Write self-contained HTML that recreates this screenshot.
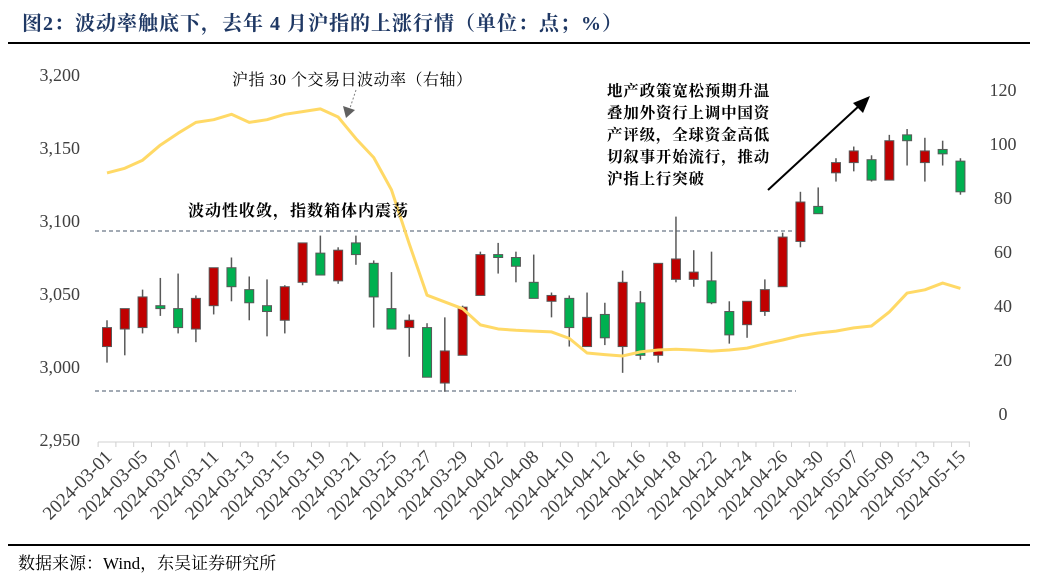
<!DOCTYPE html>
<html><head><meta charset="utf-8">
<style>
body{margin:0;background:#fff;}
svg{display:block;}
.t{font-family:"Liberation Serif","Noto Serif CJK SC",serif;}
</style></head>
<body>
<svg id="c" width="1047" height="583" viewBox="0 0 1047 583" xmlns="http://www.w3.org/2000/svg">
<text class="t" x="22" y="30" font-size="20" font-weight="bold" fill="#1f3864" letter-spacing="1">图2：波动率触底下，去年 4 月沪指的上涨行情（单位：点；%）</text>
<line x1="8" y1="43" x2="1030" y2="43" stroke="#000" stroke-width="2"/>
<line x1="8" y1="545" x2="1030" y2="545" stroke="#000" stroke-width="2"/>
<text class="t" x="18" y="569" font-size="17" fill="#000">数据来源：Wind，东吴证券研究所</text>
<g id="plot"></g>
</svg>
<script>
const dates=["2024-03-01","2024-03-04","2024-03-05","2024-03-06","2024-03-07","2024-03-08","2024-03-11","2024-03-12","2024-03-13","2024-03-14","2024-03-15","2024-03-18","2024-03-19","2024-03-20","2024-03-21","2024-03-22","2024-03-25","2024-03-26","2024-03-27","2024-03-28","2024-03-29","2024-04-01","2024-04-02","2024-04-03","2024-04-08","2024-04-09","2024-04-10","2024-04-11","2024-04-12","2024-04-15","2024-04-16","2024-04-17","2024-04-18","2024-04-19","2024-04-22","2024-04-23","2024-04-24","2024-04-25","2024-04-26","2024-04-29","2024-04-30","2024-05-06","2024-05-07","2024-05-08","2024-05-09","2024-05-10","2024-05-13","2024-05-14","2024-05-15"];
const openV=[3014,3026,3027,3042,3040,3026,3042,3068,3053,3042,3032,3058,3078,3059,3085,3071,3040,3027,3027,2989,3008,3049,3077,3075,3058,3045,3047,3014,3036,3014,3044,3008,3060,3060,3059,3038,3029,3038,3055,3086,3110,3133,3140,3142,3128,3159,3140,3149,3141];
const closeV=[3027,3040,3048,3040,3027,3047,3068,3055,3044,3038,3055,3085,3063,3080,3077,3048,3026,3032,2993,3011,3041,3077,3075,3069,3047,3049,3027,3034,3020,3058,3008,3071,3074,3065,3044,3022,3045,3053,3089,3113,3105,3140,3148,3128,3155,3155,3148,3146,3120];
const highV=[3032,3040,3053,3061,3064,3049,3068,3075,3062,3060,3056,3085,3090,3082,3090,3073,3065,3036,3030,3034,3042,3079,3085,3079,3077,3051,3049,3051,3044,3066,3052,3071,3103,3080,3079,3045,3045,3060,3092,3120,3123,3143,3151,3145,3159,3163,3157,3155,3143];
const lowV=[3003,3008,3023,3035,3023,3017,3036,3045,3032,3021,3023,3056,3063,3057,3070,3027,3026,3007,2993,2983,3008,3049,3064,3058,3047,3034,3014,3014,3015,2996,3005,3003,3058,3055,3043,3016,3020,3035,3055,3082,3105,3127,3134,3127,3128,3138,3127,3138,3118];
const volV=[89.3,91,94,99.6,104,108,109,111,108,109,111,112,113,110,102,95,83,63,44,41.5,39,33,31.5,31,30.7,30.4,28,22.6,22,21.5,23,23.7,24,23.7,23.3,23.7,24.4,26,27.4,29,30,30.7,31.9,32.6,37.8,44.8,46,48.5,46.5];
const leftTicks=[2950,3000,3050,3100,3150,3200];
const rightTicks=[0,20,40,60,80,100,120];

const NS="http://www.w3.org/2000/svg";
const g=document.getElementById('plot');
function el(tag,attrs,parent){const e=document.createElementNS(NS,tag);for(const k in attrs)e.setAttribute(k,attrs[k]);(parent||g).appendChild(e);return e;}
const x0=107,step=17.78;
const xs=i=>x0+i*step;
const yL=v=>367-(v-3000)*1.46;
const yR=v=>414-v*2.7;

let ax=el('line',{x1:98,y1:442,x2:970,y2:442,stroke:'#d0d0d0','stroke-width':1});


for(let i=0;i<=dates.length;i++){
  const tx=xs(i)-step/2;
  const t=el('line',{x1:tx,y1:442,x2:tx,y2:447,stroke:'#d0d0d0'});
  
  
}
dates.forEach((d,i)=>{
  if(i%2)return;
  const t=el('text',{x:xs(i)+6,y:458,'text-anchor':'end','font-size':19,fill:'#404040','class':'t',transform:`rotate(-45 ${xs(i)+6} 458)`});
  t.textContent=d;
  
  
});
leftTicks.forEach(v=>{
  const t=el('text',{x:80,y:yL(v)+6,'text-anchor':'end','font-size':18,fill:'#404040','class':'t'});
  t.textContent=v.toLocaleString('en-US');
  
  
});
rightTicks.forEach(v=>{
  const t=el('text',{x:1003,y:yR(v)+6,'text-anchor':'middle','font-size':18,fill:'#404040','class':'t'});
  t.textContent=v;
  
  
});

let d1=el('line',{x1:95,y1:231,x2:792,y2:231,stroke:'#44546a','stroke-dasharray':'4 3'});


let d2=el('line',{x1:95,y1:391,x2:796,y2:391,stroke:'#44546a','stroke-dasharray':'4 3'});



dates.forEach((d,i)=>{
  const up=closeV[i]>=openV[i];
  const cg=el('g',{});
  
  
  el('line',{x1:xs(i),y1:yL(highV[i]),x2:xs(i),y2:yL(lowV[i]),stroke:'#595959','stroke-width':1.5},cg);
  const top=yL(Math.max(openV[i],closeV[i])),bot=yL(Math.min(openV[i],closeV[i]));
  el('rect',{x:xs(i)-4.5,y:top,width:9,height:Math.max(bot-top,2),fill:up?'#c00000':'#00b050',stroke:'#595959','stroke-width':1},cg);
});

let pts=volV.map((v,i)=>xs(i)+','+yR(v)).join(' ');
let pl=el('polyline',{points:pts,fill:'none',stroke:'#ffd966','stroke-width':3,'stroke-linejoin':'round'});



function txt(x,y,s,name,opt){const t=el('text',Object.assign({x:x,y:y,'font-size':16,fill:'#000','class':'t'},opt||{}));t.textContent=s;return t;}
txt(232,85,'沪指 30 个交易日波动率（右轴）','volatility-label',{'letter-spacing':'0.5'});
let da=el('line',{x1:356,y1:90,x2:350,y2:108,stroke:'#808080','stroke-dasharray':'2 2'});


let dh=el('polygon',{points:'343,106 355,110 346,118',fill:'#606060'});


txt(188,216,'波动性收敛，指数箱体内震荡','box-annotation',{'font-weight':'bold','letter-spacing':'1'});
const lines=['地产政策宽松预期升温','叠加外资行上调中国资','产评级，全球资金高低','切叙事开始流行，推动','沪指上行突破'];
lines.forEach((s,k)=>txt(607,96+k*22,s,'breakout-annotation',{'font-weight':'bold','font-size':15.5,'letter-spacing':'0.8'}));
let ar=el('line',{x1:768,y1:190,x2:860,y2:105,stroke:'#000','stroke-width':2});


let ah=el('polygon',{points:'870,96 853,103 863,113',fill:'#000'});


</script>
</body></html>
